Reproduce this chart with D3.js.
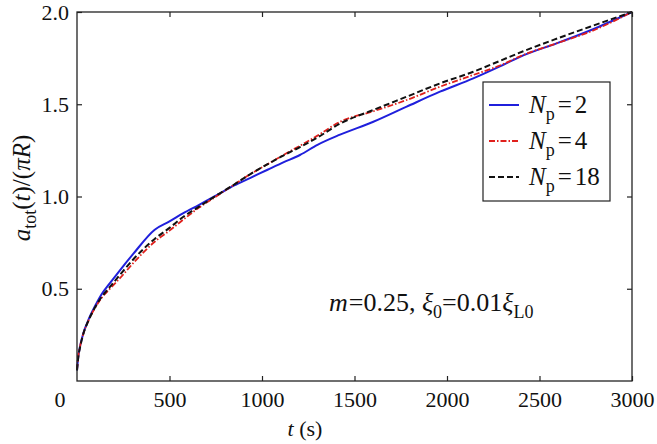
<!DOCTYPE html>
<html><head><meta charset="utf-8">
<script src="https://cdn.jsdelivr.net/npm/d3@7"></script>
</head>
<body style="margin:0;background:#fff"><svg id="c" width="657" height="444" font-family="Liberation Serif"></svg>
<script>
const tValues = [0, 7, 16, 34, 61, 97, 133, 178, 232, 305, 420, 500, 575, 660, 760, 850, 935, 1030, 1115, 1205, 1300, 1422, 1602, 1782, 1962, 2142, 2286, 2412, 2592, 2773, 3000];
const seriesNp2 = [0.058, 0.132, 0.186, 0.258, 0.33, 0.405, 0.47, 0.53, 0.60, 0.69, 0.82, 0.865, 0.91, 0.955, 1.01, 1.06, 1.10, 1.145, 1.185, 1.225, 1.28, 1.335, 1.405, 1.487, 1.568, 1.64, 1.705, 1.765, 1.83, 1.90, 2.0];
const seriesNp4 = [0.06, 0.135, 0.185, 0.255, 0.325, 0.395, 0.45, 0.50, 0.557, 0.64, 0.755, 0.815, 0.875, 0.94, 1.005, 1.065, 1.12, 1.175, 1.225, 1.275, 1.33, 1.405, 1.462, 1.523, 1.595, 1.659, 1.71, 1.767, 1.83, 1.893, 2.0];
const seriesNp18 = [0.058, 0.13, 0.18, 0.255, 0.325, 0.398, 0.455, 0.51, 0.575, 0.66, 0.77, 0.83, 0.89, 0.945, 1.01, 1.065, 1.12, 1.175, 1.222, 1.268, 1.32, 1.395, 1.469, 1.541, 1.613, 1.676, 1.735, 1.787, 1.855, 1.92, 2.0];
const xTickValues = [500, 1000, 1500, 2000, 2500, 3000];
const yTickValues = [0.5, 1.0, 1.5, 2.0];
const legendLabels = ["2", "4", "18"];

const FONT = "Liberation Serif";
const svg = d3.select("#c");
const L = 77, R = 632, T = 12, B = 381;
const x = d3.scaleLinear().domain([0, 3000]).range([L, R]);
const y = d3.scaleLinear().domain([0, 2]).range([B, T]);

const series = [
  {vals: seriesNp2, color: "#1f1fdc", dash: null, w: 2},
  {vals: seriesNp4, color: "#e0201c", dash: "6,2,1.5,2", w: 1.8},
  {vals: seriesNp18, color: "#111", dash: "6,3", w: 2}
];

const line = d3.line().x(d => x(d[0])).y(d => y(d[1])).curve(d3.curveMonotoneX);
series.forEach(s => {
  svg.append("path").datum(tValues.map((t, i) => [t, s.vals[i]]))
    .attr("d", line).attr("fill", "none").attr("stroke", s.color)
    .attr("stroke-width", s.w).attr("stroke-dasharray", s.dash);
});

const fs = 22;
const gx = svg.append("g").attr("transform", `translate(0,${B})`)
  .call(d3.axisBottom(x).tickValues(xTickValues).tickSizeInner(-5).tickSizeOuter(0).tickFormat(d3.format("d")));
const gxt = svg.append("g").attr("transform", `translate(0,${T})`)
  .call(d3.axisTop(x).tickValues(xTickValues).tickSizeInner(-5).tickSizeOuter(0).tickFormat(""));
const gy = svg.append("g").attr("transform", `translate(${L},0)`)
  .call(d3.axisLeft(y).tickValues(yTickValues).tickSizeInner(-5).tickSizeOuter(0).tickFormat(d3.format(".1f")));
const gyr = svg.append("g").attr("transform", `translate(${R},0)`)
  .call(d3.axisRight(y).tickValues(yTickValues).tickSizeInner(-5).tickSizeOuter(0).tickFormat(""));
[gx, gxt, gy, gyr].forEach(g => {
  g.attr("font-family", FONT).attr("font-size", fs);
  g.select(".domain").remove();
  g.selectAll("line").attr("stroke", "#222").attr("stroke-width", 1.2);
  g.selectAll("text").attr("font-family", FONT).attr("font-size", fs).attr("fill", "#111");
});
gx.selectAll("text").attr("dy", null).attr("y", 26);
gy.selectAll("text").attr("x", -8);
svg.append("rect").attr("x", L).attr("y", T).attr("width", R - L).attr("height", B - T)
  .attr("fill", "none").attr("stroke", "#222").attr("stroke-width", 1.3);

function txt(sel, size) { return sel.append("text").attr("font-family", FONT).attr("font-size", size || fs).attr("fill", "#111"); }

txt(svg).attr("x", 60).attr("y", 407).attr("text-anchor", "middle").text("0");

const xl = txt(svg).attr("x", 305).attr("y", 436).attr("text-anchor", "middle");
xl.append("tspan").attr("font-style", "italic").text("t");
xl.append("tspan").text(" (s)");

const yl = txt(svg, 25).attr("transform", "translate(30,188) rotate(-90)").attr("text-anchor", "middle");
yl.append("tspan").attr("font-style", "italic").text("a");
yl.append("tspan").attr("dy", 6).attr("font-size", 18).text("tot");
yl.append("tspan").attr("dy", -6).text("(");
yl.append("tspan").attr("font-style", "italic").text("t");
yl.append("tspan").text(")/(");
yl.append("tspan").attr("font-style", "italic").text("πR");
yl.append("tspan").text(")");

const an = txt(svg, 26).attr("x", 329).attr("y", 311);
an.append("tspan").attr("font-style", "italic").text("m");
an.append("tspan").attr("dx", 1).text("=0.25, ");
an.append("tspan").attr("font-style", "italic").text("ξ");
an.append("tspan").attr("dy", 7).attr("font-size", 18).text("0");
an.append("tspan").attr("dy", -7).text("=0.01");
an.append("tspan").attr("font-style", "italic").text("ξ");
an.append("tspan").attr("dy", 7).attr("font-size", 18).text("L0");

const lg = svg.append("g");
lg.append("rect").attr("x", 483).attr("y", 82).attr("width", 127).attr("height", 119)
  .attr("fill", "#fff").attr("stroke", "#222").attr("stroke-width", 1.2);
const rowsY = [105, 141, 177];
series.forEach((s, i) => {
  lg.append("line").attr("x1", 489).attr("x2", 519).attr("y1", rowsY[i]).attr("y2", rowsY[i])
    .attr("stroke", s.color).attr("stroke-width", s.w).attr("stroke-dasharray", s.dash);
  const tx = txt(lg, 25).attr("x", 529).attr("y", rowsY[i] + 8);
  tx.append("tspan").attr("font-style", "italic").text("N");
  tx.append("tspan").attr("dy", 7).attr("font-size", 18).text("p");
  tx.append("tspan").attr("dy", -7).attr("dx", 3).text("=");
  tx.append("tspan").attr("dx", 3).text(legendLabels[i]);
});
</script></body></html>
